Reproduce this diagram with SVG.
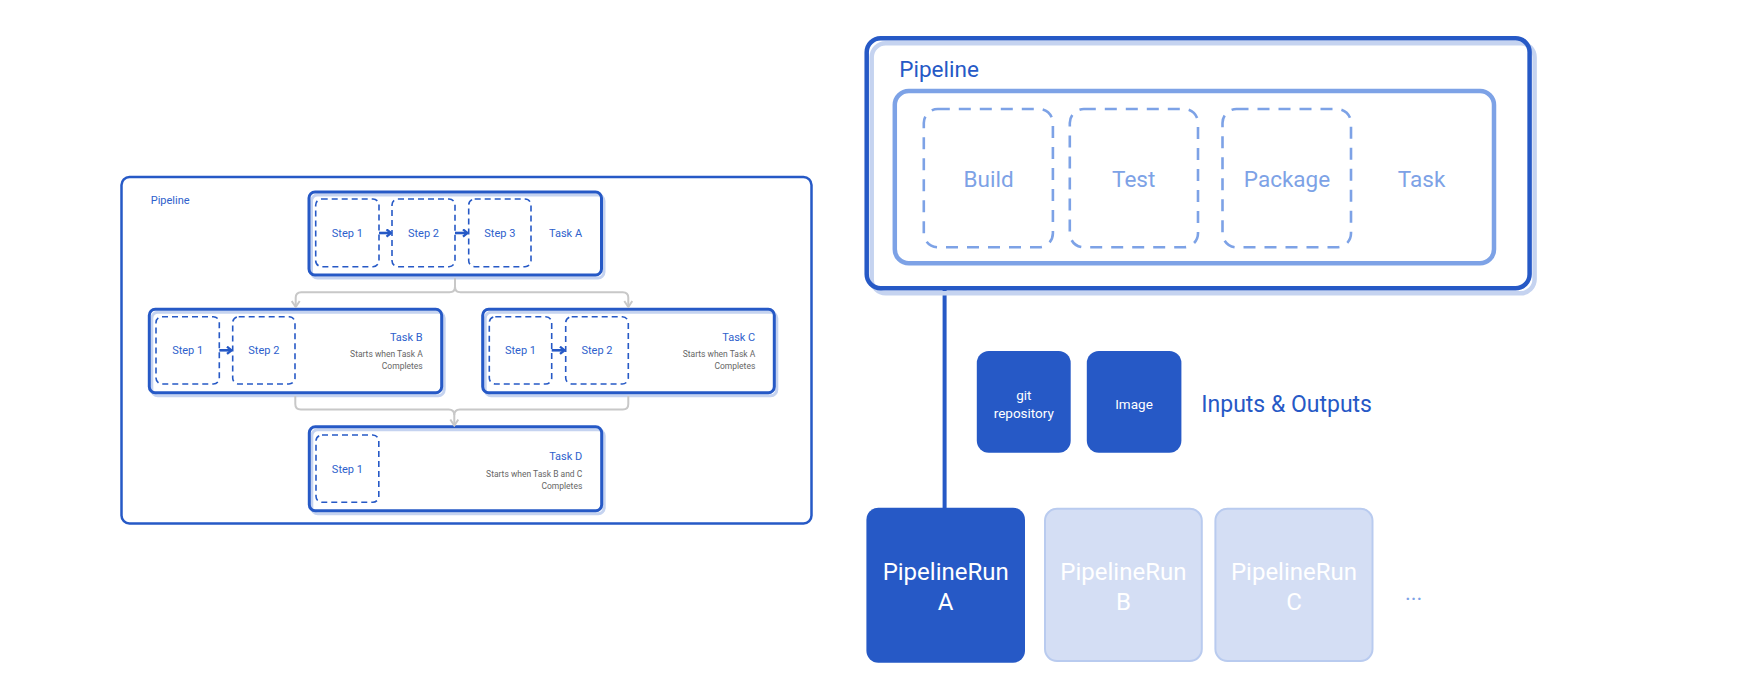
<svg xmlns="http://www.w3.org/2000/svg" width="1744" height="686" viewBox="0 0 1744 686">
<defs>
<style>
text{font-family:Roboto,"Liberation Sans",sans-serif}
.box{fill:none;stroke:#2659C6;stroke-width:3}
.shd{fill:none;stroke:#C5D3F0;stroke-width:3}
.step{fill:none;stroke:#2659C6;stroke-width:1.6;stroke-dasharray:6 4}
.sl{font-size:11px;fill:#2E5FCC;text-anchor:middle}
.tl{font-size:11px;fill:#2E5FCC}
.sub{font-size:8.5px;fill:#666;text-anchor:end}
.gc{fill:none;stroke:#C8C8C8;stroke-width:2}
.ba{fill:none;stroke:#2659C6;stroke-width:2.6}
.dash{fill:none;stroke:#7DA2E6;stroke-width:2.6;stroke-dasharray:12 9}
.ml{font-size:22.5px;fill:#7DA2E6;text-anchor:middle}
.run{font-size:24px;fill:#fff;text-anchor:middle}
.io{font-size:13.5px;fill:#fff;text-anchor:middle}
</style>
<marker id="chev" viewBox="0 0 10 10" refX="9" refY="5" markerWidth="10" markerHeight="10" markerUnits="userSpaceOnUse" orient="auto">
<path d="M3,1 L9,5 L3,9" fill="none" stroke="#C8C8C8" stroke-width="2"/>
</marker>
<marker id="barr" viewBox="0 0 10 10" refX="9" refY="5" markerWidth="9" markerHeight="9" markerUnits="userSpaceOnUse" orient="auto">
<path d="M4,1 L9,5 L4,9" fill="none" stroke="#2659C6" stroke-width="2.6"/>
</marker>
</defs>
<rect width="1744" height="686" fill="#fff"/>

<!-- Left diagram -->
<g id="left-pipeline">
<rect x="121.5" y="177" width="690" height="346.5" rx="8" fill="none" stroke="#2659C6" stroke-width="2.5"/>
<text x="150.7" y="204" class="tl">Pipeline</text>
</g>

<g id="task-a">
<rect x="311.5" y="195" width="292.5" height="83" rx="6" class="shd"/>
<rect x="309" y="192" width="292.5" height="83" rx="6" class="box"/>
<rect x="315.7" y="199" width="63.3" height="67.7" rx="6" class="step"/>
<rect x="392" y="199" width="63" height="67.7" rx="6" class="step"/>
<rect x="468.7" y="199" width="62.3" height="67.7" rx="6" class="step"/>
<text x="347.3" y="237" class="sl">Step 1</text>
<text x="423.5" y="237" class="sl">Step 2</text>
<text x="499.8" y="237" class="sl">Step 3</text>
<text x="549" y="237" class="tl">Task A</text>
<path d="M379,233 H391" class="ba" marker-end="url(#barr)"/>
<path d="M455,233 H467.5" class="ba" marker-end="url(#barr)"/>
</g>

<g id="task-b">
<rect x="151.8" y="312.3" width="292.4" height="83.4" rx="6" class="shd"/>
<rect x="149.3" y="309.3" width="292.4" height="83.4" rx="6" class="box"/>
<rect x="156" y="316.7" width="63.3" height="67.3" rx="6" class="step"/>
<rect x="232.7" y="316.7" width="62.3" height="67.3" rx="6" class="step"/>
<text x="187.7" y="354.3" class="sl">Step 1</text>
<text x="263.8" y="354.3" class="sl">Step 2</text>
<path d="M219.3,350.3 H231.5" class="ba" marker-end="url(#barr)"/>
<text x="422.7" y="340.7" class="tl" text-anchor="end">Task B</text>
<text x="422.7" y="357" class="sub">Starts when Task A</text>
<text x="422.7" y="368.7" class="sub">Completes</text>
</g>

<g id="task-c">
<rect x="485.2" y="312.3" width="291.6" height="83.4" rx="6" class="shd"/>
<rect x="482.7" y="309.3" width="291.6" height="83.4" rx="6" class="box"/>
<rect x="489.3" y="316.7" width="62.4" height="67.3" rx="6" class="step"/>
<rect x="565.7" y="316.7" width="62.6" height="67.3" rx="6" class="step"/>
<text x="520.5" y="354.3" class="sl">Step 1</text>
<text x="597" y="354.3" class="sl">Step 2</text>
<path d="M551.7,350.3 H564.5" class="ba" marker-end="url(#barr)"/>
<text x="755.3" y="340.7" class="tl" text-anchor="end">Task C</text>
<text x="755.3" y="357" class="sub">Starts when Task A</text>
<text x="755.3" y="368.7" class="sub">Completes</text>
</g>

<g id="task-d">
<rect x="311.8" y="429.7" width="292.4" height="84" rx="6" class="shd"/>
<rect x="309.3" y="426.7" width="292.4" height="84" rx="6" class="box"/>
<rect x="316" y="435" width="62.8" height="67.3" rx="6" class="step"/>
<text x="347.4" y="472.6" class="sl">Step 1</text>
<text x="582.3" y="460" class="tl" text-anchor="end">Task D</text>
<text x="582.3" y="477" class="sub">Starts when Task B and C</text>
<text x="582.3" y="488.7" class="sub">Completes</text>
</g>

<g id="connectors">
<path d="M455,278 V286.7 Q455,292.2 449.5,292.2 H301.2 Q295.7,292.2 295.7,297.7 V307" class="gc" marker-end="url(#chev)"/>
<path d="M455,286.7 Q455,292.2 460.5,292.2 H622.8 Q628.3,292.2 628.3,297.7 V307" class="gc" marker-end="url(#chev)"/>
<path d="M295.3,396 V404 Q295.3,409.5 300.8,409.5 H448.8 Q454.3,409.5 454.3,415 V425.5" class="gc" marker-end="url(#chev)"/>
<path d="M628.3,396 V404 Q628.3,409.5 622.8,409.5 H459.8 Q454.3,409.5 454.3,415" class="gc"/>
<path d="M944.6,290 V509" fill="none" stroke="#2659C6" stroke-width="4"/>
</g>

<!-- Right diagram -->
<g id="pipeline">
<rect x="871.7" y="43.3" width="662.9" height="250" rx="14" fill="none" stroke="#C5D3F0" stroke-width="4.5"/>
<rect x="866.7" y="38.3" width="662.9" height="250" rx="14" fill="none" stroke="#2659C6" stroke-width="4.5"/>
<text x="899.3" y="76.7" font-size="22.5" fill="#2659C6">Pipeline</text>
</g>

<g id="task">
<rect x="894.8" y="91" width="599.2" height="172.3" rx="14" fill="none" stroke="#7DA2E6" stroke-width="4.5"/>
<text x="1421.6" y="187" class="ml">Task</text>
</g>
<g id="build">
<rect x="923.8" y="109" width="129.1" height="138.3" rx="14" class="dash"/>
<text x="988.6" y="187" class="ml">Build</text>
</g>
<g id="test">
<rect x="1069.8" y="109" width="128.2" height="138.3" rx="14" class="dash"/>
<text x="1133.7" y="187" class="ml">Test</text>
</g>
<g id="package">
<rect x="1222.5" y="109" width="128.5" height="138.3" rx="14" class="dash"/>
<text x="1287" y="187" class="ml">Package</text>
</g>

<g id="git-repository">
<rect x="976.8" y="351" width="93.9" height="101.7" rx="12" fill="#2659C6"/>
<text x="1023.8" y="399.5" class="io">git</text>
<text x="1023.8" y="418" class="io">repository</text>
</g>
<g id="image">
<rect x="1086.8" y="351" width="94.6" height="101.7" rx="12" fill="#2659C6"/>
<text x="1134" y="408.5" class="io">Image</text>
</g>
<g id="inputs-outputs">
<text x="1201.3" y="411.5" font-size="23" fill="#2659C6">Inputs &amp; Outputs</text>
</g>

<g id="pipelinerun-a">
<rect x="866.4" y="507.7" width="158.6" height="155" rx="12" fill="#2659C6"/>
<text x="945.7" y="580" class="run">PipelineRun</text>
<text x="945.7" y="610" class="run">A</text>
</g>
<g id="pipelinerun-b">
<rect x="1045" y="508.7" width="156.8" height="152.3" rx="12" fill="#D4DEF4" stroke="#B9CBEF" stroke-width="2"/>
<text x="1123.4" y="580" class="run">PipelineRun</text>
<text x="1123.4" y="610" class="run">B</text>
</g>
<g id="pipelinerun-c">
<rect x="1215.4" y="508.7" width="157.1" height="152.3" rx="12" fill="#D4DEF4" stroke="#B9CBEF" stroke-width="2"/>
<text x="1294" y="580" class="run">PipelineRun</text>
<text x="1294" y="610" class="run">C</text>
</g>
<g id="more">
<text x="1405" y="600" font-size="22" fill="#7DA2E6">...</text>
</g>
</svg>
